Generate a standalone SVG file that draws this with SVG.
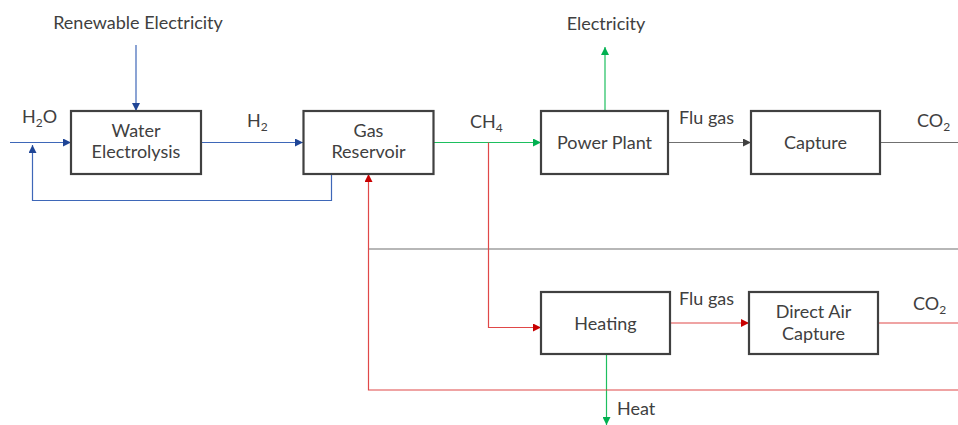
<svg xmlns="http://www.w3.org/2000/svg" width="958" height="425" viewBox="0 0 958 425">
<defs>
<style>
.box{fill:#fff;stroke:#404040;stroke-width:2.2}
.t{font-family:Lato,"Open Sans","DejaVu Sans",sans-serif;font-size:18px;fill:#404040}
.c{text-anchor:middle}
.sub{font-size:12px}
.ln{fill:none;stroke-width:1.2}
.b{stroke:#3E67B8}
.g{stroke:#1DBF5E}
.r{stroke:#E04848}
.k{stroke:#707070}
</style>
<marker id="ab" viewBox="0 0 10 10" refX="10" refY="5" markerWidth="8" markerHeight="8" markerUnits="userSpaceOnUse" orient="auto"><path d="M0,0L10,5L0,10z" fill="#1F4596"/></marker>
<marker id="ag" viewBox="0 0 10 10" refX="10" refY="5" markerWidth="8" markerHeight="8" markerUnits="userSpaceOnUse" orient="auto"><path d="M0,0L10,5L0,10z" fill="#00B050"/></marker>
<marker id="ar" viewBox="0 0 10 10" refX="10" refY="5" markerWidth="8" markerHeight="8" markerUnits="userSpaceOnUse" orient="auto"><path d="M0,0L10,5L0,10z" fill="#C80000"/></marker>
<marker id="ak" viewBox="0 0 10 10" refX="10" refY="5" markerWidth="8" markerHeight="8" markerUnits="userSpaceOnUse" orient="auto"><path d="M0,0L10,5L0,10z" fill="#404040"/></marker>
</defs>
<rect width="958" height="425" fill="#fff"/>
<g id="connectors">
<path class="ln b" d="M136,45V111" marker-end="url(#ab)"/>
<path class="ln b" d="M10,142.5H71" marker-end="url(#ab)"/>
<path class="ln b" d="M201,142.5H303" marker-end="url(#ab)"/>
<path class="ln b" d="M331.5,174V200.5H32.5V145" marker-end="url(#ab)"/>
<path class="ln g" d="M434,142.5H541" marker-end="url(#ag)"/>
<path class="ln g" d="M605,111V47" marker-end="url(#ag)"/>
<path class="ln g" d="M606.5,354V425" marker-end="url(#ag)"/>
<path class="ln k" d="M668,142.5H751" marker-end="url(#ak)"/>
<path class="ln k" d="M880,142.5H958"/>
<path class="ln k" d="M368.5,249H958"/>
<path class="ln r" d="M488.5,142.5V327.5H541" marker-end="url(#ar)"/>
<path class="ln r" d="M670,323H749" marker-end="url(#ar)"/>
<path class="ln r" d="M878,323H958"/>
<path class="ln r" d="M958,390H368.5V174" marker-end="url(#ar)"/>
</g>
<g id="water-electrolysis"><rect class="box" x="71" y="111" width="130" height="63"/><text class="t c" x="136" y="137">Water</text><text class="t c" x="136" y="158">Electrolysis</text></g>
<g id="gas-reservoir"><rect class="box" x="303.5" y="111" width="130" height="63"/><text class="t c" x="368.5" y="137">Gas</text><text class="t c" x="368.5" y="158">Reservoir</text></g>
<g id="power-plant"><rect class="box" x="541" y="111" width="127" height="63"/><text class="t c" x="604.5" y="149">Power Plant</text></g>
<g id="capture"><rect class="box" x="751" y="111" width="129" height="63"/><text class="t c" x="815.5" y="149">Capture</text></g>
<g id="heating"><rect class="box" x="541" y="292" width="129" height="62"/><text class="t c" x="605.5" y="330">Heating</text></g>
<g id="direct-air-capture"><rect class="box" x="749" y="292" width="129" height="62"/><text class="t c" x="813.5" y="318">Direct Air</text><text class="t c" x="813.5" y="340">Capture</text></g>
<g id="labels">
<text class="t c" x="138" y="29">Renewable Electricity</text>
<text class="t c" x="606" y="30">Electricity</text>
<text class="t" x="22" y="123">H<tspan class="sub" dy="4">2</tspan><tspan dy="-4">O</tspan></text>
<text class="t" x="247" y="127">H<tspan class="sub" dy="4">2</tspan></text>
<text class="t" x="470" y="128">CH<tspan class="sub" dy="4">4</tspan></text>
<text class="t" x="679" y="124">Flu gas</text>
<text class="t" x="917" y="127">CO<tspan class="sub" dy="4">2</tspan></text>
<text class="t" x="679" y="305">Flu gas</text>
<text class="t" x="913" y="310">CO<tspan class="sub" dy="4">2</tspan></text>
<text class="t" x="617" y="415">Heat</text>
</g>
</svg>
